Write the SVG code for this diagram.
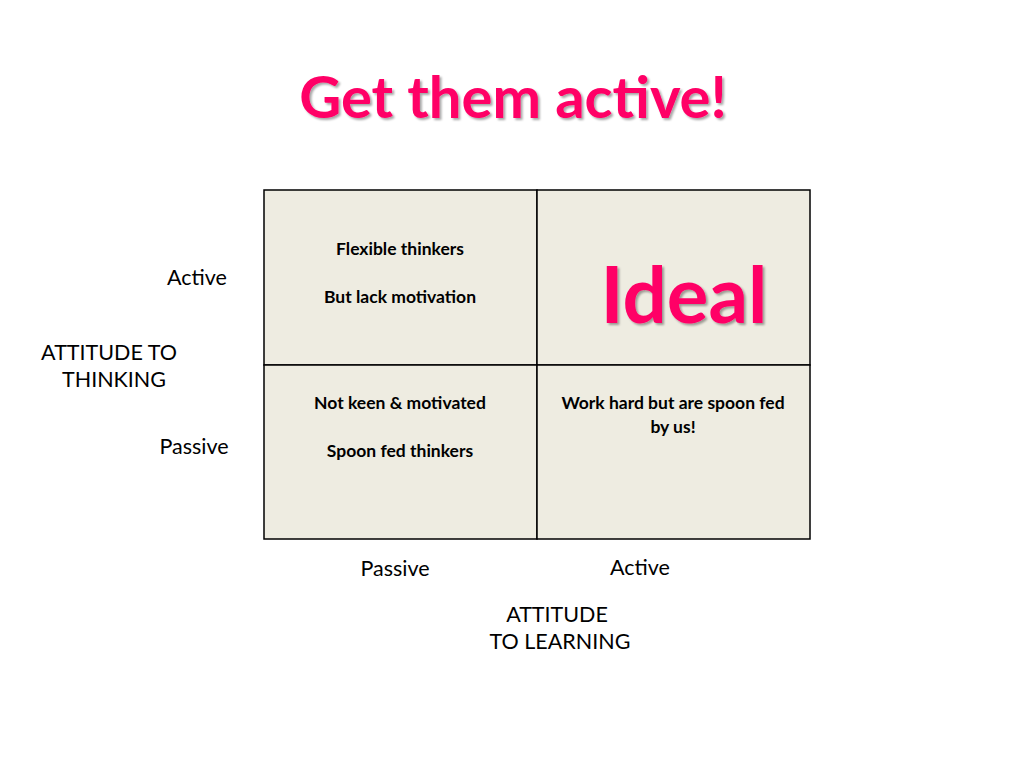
<svg xmlns="http://www.w3.org/2000/svg" width="1024" height="768" viewBox="0 0 1024 768">
<defs>
<style>
.t{font-family:Lato,"Open Sans","Liberation Sans",sans-serif;fill:#000;text-anchor:middle}
.s{font-size:17.5px;font-weight:bold}
.a{font-size:21.5px}
.p{fill:#FF0066;font-family:Lato,"Open Sans","Liberation Sans",sans-serif;font-weight:bold;text-anchor:middle}
.c{fill:#EEECE1;stroke:#000;stroke-width:1.5}
</style>
<filter id="sh" x="-10%" y="-10%" width="120%" height="130%"><feDropShadow dx="2" dy="2" stdDeviation="1" flood-color="#000" flood-opacity="0.35"/></filter>
</defs>
<rect width="1024" height="768" fill="#fff"/>
<text class="p" x="513" y="118" font-size="58" filter="url(#sh)">Get them active!</text>
<g id="q1"><rect class="c" x="264" y="190" width="273" height="175"/>
<text class="t s" x="400" y="255">Flexible thinkers</text>
<text class="t s" x="400" y="303">But lack motivation</text></g>
<g id="q2"><rect class="c" x="537" y="190" width="273" height="175"/>
<text class="p" x="684" y="323" font-size="78" filter="url(#sh)">Ideal</text></g>
<g id="q3"><rect class="c" x="264" y="365" width="273" height="174"/>
<text class="t s" x="400" y="409">Not keen &amp; motivated</text>
<text class="t s" x="400" y="457">Spoon fed thinkers</text></g>
<g id="q4"><rect class="c" x="537" y="365" width="273" height="174"/>
<text class="t s" x="673" y="409">Work hard but are spoon fed</text>
<text class="t s" x="673" y="433">by us!</text></g>
<g id="labels">
<text class="t a" x="197" y="285">Active</text>
<text class="t a" x="194" y="454">Passive</text>
<text class="t a" x="109" y="360">ATTITUDE  TO</text>
<text class="t a" x="114" y="387">THINKING</text>
<text class="t a" x="395" y="576">Passive</text>
<text class="t a" x="640" y="575">Active</text>
<text class="t a" x="557" y="622">ATTITUDE</text>
<text class="t a" x="560" y="649">TO LEARNING</text>
</g>
<g id="connectors"/>
</svg>
